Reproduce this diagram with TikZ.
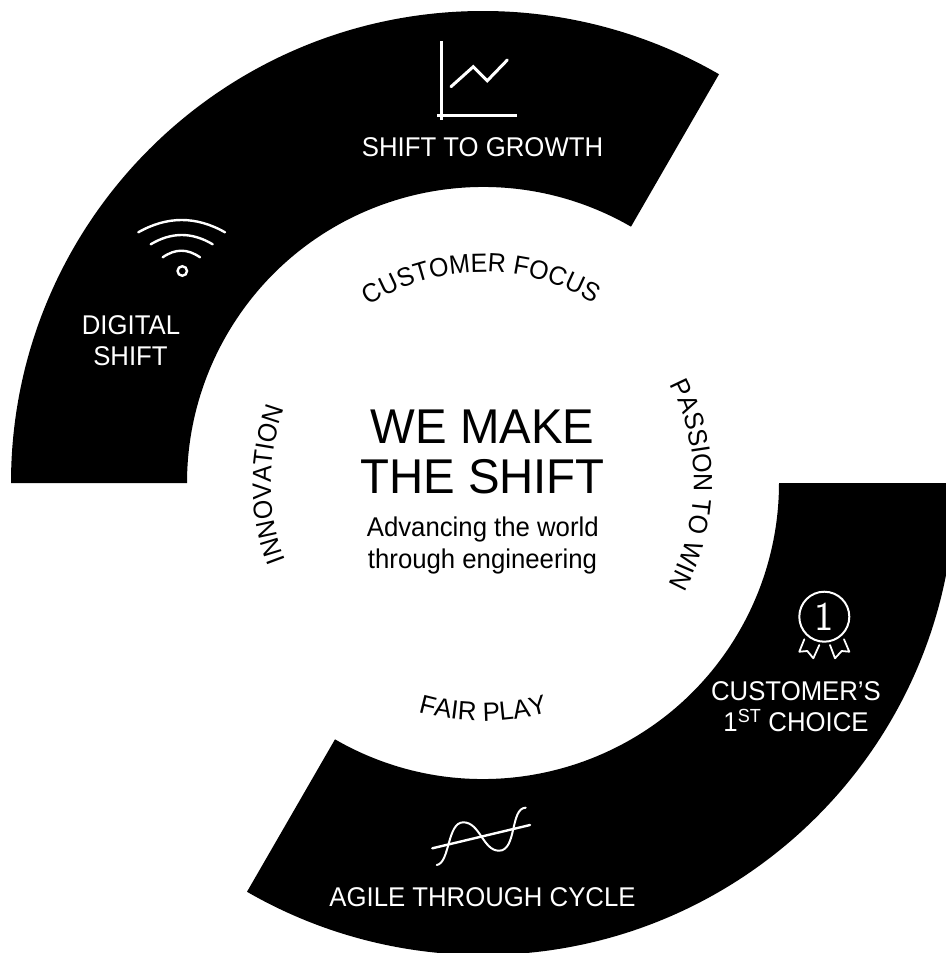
\documentclass[tikz,border=0pt]{standalone}
\usepackage{fontspec}
\setmainfont{Liberation Sans}
\newfontfamily\bandface[FakeStretch=0.95]{Liberation Sans}
\newfontfamily\headface[FakeStretch=0.97]{Liberation Sans}
\newfontfamily\curveA[FakeStretch=0.945]{Liberation Sans}
\newfontfamily\curveC[FakeStretch=0.975]{Liberation Sans}
\usetikzlibrary{decorations.text}
\tikzset{
  band/.style={fill=black,draw=none},
  bandlabel/.style={text=white,anchor=base,inner sep=0pt,align=center,font=\bandface\fontsize{27.2}{31}\selectfont},
  icon/.style={draw=white,line width=2.4pt,fill=none,line cap=round,line join=miter},
  headline/.style={text=black,anchor=base,inner sep=0pt,font=\headface\fontsize{49}{50}\selectfont},
  subline/.style={text=black,anchor=base,inner sep=0pt,font=\bandface\fontsize{27.2}{31}\selectfont},
  curved/.style 2 args={decorate,decoration={text along path,text align=center,text={|#1\fontsize{26.5}{30}\selectfont|#2}}}
}
\begin{document}
\begin{tikzpicture}[x=1bp,y=-1bp]
\useasboundingbox (0,0) rectangle (946,953);
\clip (0,0) rectangle (946,953);
% ring bands and curved texts, in polar form around the centre
\begin{scope}[shift={(483,483)},y=1bp]
  \path[band] (180:472) arc (180:60:472) -- (60:296) arc (60:180:296) -- cycle;
  \path[band] (0:472) arc (0:-120:472) -- (-120:296) arc (-120:0:296) -- cycle;
  \path[curved={\curveA}{CUSTOMER FOCUS}] (130.5:211) arc (130.5:50.5:211);
  \path[curved={\curveA}{PASSION TO WIN}] (39.5:211) arc (39.5:-40.5:211);
  \path[curved={\curveA}{INNOVATION}] (210.35:212) arc (210.35:150.35:212);
  \path[curved={\curveC}{FAIR PLAY}] (240:238) arc (240:300:238);
\end{scope}
% growth chart icon
\draw[icon,line width=3.6pt,line cap=butt] (441.7,41) -- (441.7,120);
\draw[icon,line width=3.6pt,line cap=butt] (437,115.3) -- (516.7,115.3);
\draw[icon,line width=3pt] (451,86.7) -- (473.3,66.7) -- (487.3,80.7) -- (507.3,60);
% wifi icon
\draw[icon] (138.3,232.3) .. controls (167.2,215.9) and (196.1,215.9) .. (225,232.3);
\draw[icon] (150.7,244.3) .. controls (171.4,231.9) and (192,231.9) .. (212.7,244.3);
\draw[icon] (162.7,257.3) .. controls (175.4,248.5) and (187.4,248.5) .. (200,257.3);
\node[draw=white,line width=2.4pt,circle,minimum size=9.5bp,inner sep=0pt] (wifidot) at (182.3,271) {};
% medal icon
\node[draw=white,line width=2pt,circle,minimum size=50bp,inner sep=0pt,text=white] (medal) at (824.3,616.7) {\sffamily\fontsize{41}{41}\selectfont 1};
\draw[icon,line width=1.8pt,line join=round] (804.3,639.3) -- (799.3,651.7) -- (807.3,651) -- (813.3,658.3) -- (819.3,645);
\draw[icon,line width=1.8pt,line join=round] (830,645) -- (835,658.3) -- (841.7,651) -- (849.3,651.7) -- (844,639.3);
% cycle icon
\draw[icon,line width=2pt] (436.7,865) .. controls (450,863) and (447,822.3) .. (463.3,822.3) .. controls (480,822.3) and (483,850.7) .. (499,850.7) .. controls (517,850.7) and (510,808) .. (525.7,807.7);
\draw[icon,line width=2.4pt] (432.3,848.3) -- (530,825);
% labels on the bands
\node[bandlabel] (growth) at (482.5,156.7) {SHIFT TO GROWTH};
\node[bandlabel] (digital1) at (131,334.3) {DIGITAL};
\node[bandlabel] (digital2) at (130.5,365.7) {SHIFT};
\node[bandlabel] (choice1) at (796,700.7) {CUSTOMER’S};
\node[bandlabel] (choice2) at (796,731.7) {1\textsuperscript{ST} CHOICE};
\node[bandlabel] (agile) at (482.5,906.7) {AGILE THROUGH CYCLE};
% centre text
\node[headline] (make) at (482.5,443.3) {WE MAKE};
\node[headline] (shift) at (482.5,493.3) {THE SHIFT};
\node[subline] (adv) at (482.8,536.7) {Advancing the world};
\node[subline] (eng) at (482.5,568.3) {through engineering};
\end{tikzpicture}
\end{document}
